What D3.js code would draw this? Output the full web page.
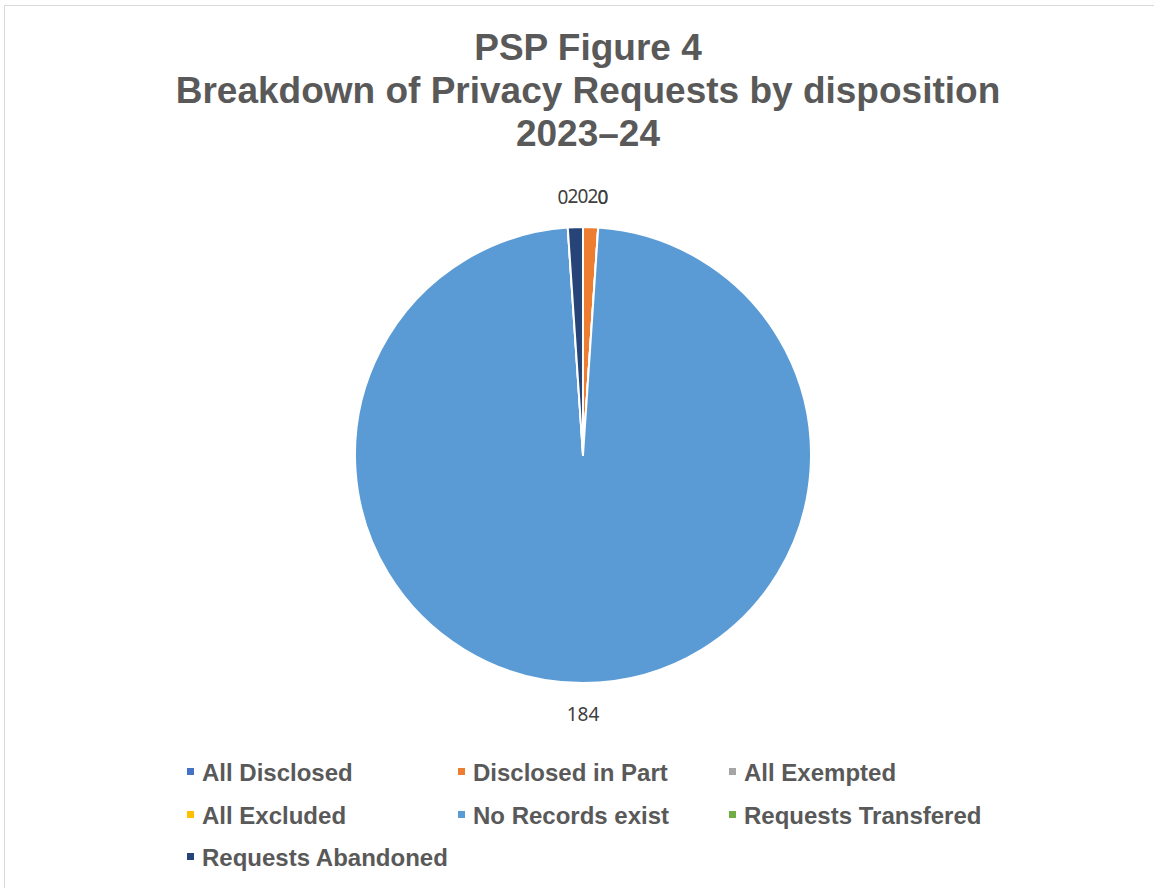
<!DOCTYPE html>
<html>
<head>
<meta charset="utf-8">
<script src="https://cdn.jsdelivr.net/npm/d3@7"></script>
<style>
  body { margin: 0; background: #fff; }
  svg { display: block; }
</style>
</head>
<body>
<div id="chart"></div>
<script>
// data
var categories = ["All Disclosed", "Disclosed in Part", "All Exempted", "All Excluded",
                  "No Records exist", "Requests Transfered", "Requests Abandoned"];
var values = [0, 2, 0, 0, 184, 0, 2];
var colors = ["#4472C4", "#ED7D31", "#A5A5A5", "#FFC000", "#5B9BD5", "#70AD47", "#264478"];
var titleLines = ["PSP Figure 4", "Breakdown of Privacy Requests by disposition", "2023\u201324"];

var width = 1154, height = 888;

var svg = d3.select("#chart").append("svg")
    .attr("width", width)
    .attr("height", height);

// chart area border
svg.append("rect")
    .attr("x", 4.5).attr("y", 5.5)
    .attr("width", width + 10).attr("height", height + 10)
    .attr("fill", "#fff")
    .attr("stroke", "#d9d9d9")
    .attr("stroke-width", 1);

// title
svg.append("g").selectAll("text")
    .data(titleLines)
    .enter()
    .append("text")
    .attr("x", 588)
    .attr("y", (d, i) => 60 + i * 43)
    .attr("text-anchor", "middle")
    .attr("font-family", "Liberation Sans, Arial, sans-serif")
    .attr("font-weight", "bold")
    .attr("font-size", 37)
    .attr("fill", "#595959")
    .text(d => d);

// pie
var cx = 583, cy = 455, radius = 228;
var table = categories.map((c, i) => ({ name: c, value: values[i], color: colors[i] }));

var pie = d3.pie().sort(null).value(d => d.value);
var arc = d3.arc().innerRadius(0).outerRadius(radius);

var pieGroup = svg.append("g")
    .attr("transform", `translate(${cx}, ${cy})`);

var arcs = pie(table);

pieGroup.selectAll("path")
    .data(arcs)
    .enter()
    .append("path")
    .attr("d", arc)
    .attr("fill", d => d.data.color)
    .attr("stroke", "#fff")
    .attr("stroke-width", 2)
    .attr("stroke-linejoin", "round");

// data labels (spread a bit wider horizontally so the crowded ones stay readable)
function labelPos(d) {
    var a = (d.startAngle + d.endAngle) / 2;
    return [Math.sin(a) * 300, -Math.cos(a) * 259];
}

pieGroup.selectAll("text")
    .data(arcs)
    .enter()
    .append("text")
    .attr("transform", d => `translate(${labelPos(d)})`)
    .attr("text-anchor", "middle")
    .attr("dominant-baseline", "central")
    .attr("font-family", "Noto Sans, Open Sans, sans-serif")
    .attr("font-size", 19)
    .attr("fill", "#404040")
    .text(d => d.data.value);

// legend
var legendCols = [187, 458, 729];
var legendRows = [772, 815, 857];

var legend = svg.append("g").selectAll("g")
    .data(table)
    .enter()
    .append("g")
    .attr("transform", (d, i) => `translate(${legendCols[i % 3]}, ${legendRows[Math.floor(i / 3)]})`);

legend.append("rect")
    .attr("x", 0).attr("y", -4)
    .attr("width", 7).attr("height", 7)
    .attr("fill", d => d.color);

legend.append("text")
    .attr("x", 15)
    .attr("y", 0)
    .attr("dominant-baseline", "central")
    .attr("font-family", "Liberation Sans, Arial, sans-serif")
    .attr("font-weight", "bold")
    .attr("font-size", 24)
    .attr("fill", "#595959")
    .text(d => d.name);
</script>
</body>
</html>
